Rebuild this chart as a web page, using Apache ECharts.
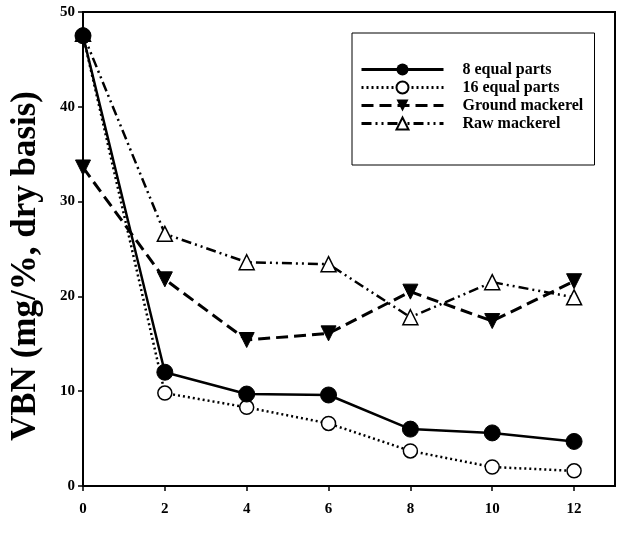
<!DOCTYPE html>
<html><head><meta charset="utf-8">
<script src="https://cdn.jsdelivr.net/npm/echarts@6/dist/echarts.min.js"></script>
<style>html,body{margin:0;padding:0;background:#fff}#c{width:626px;height:533px}</style>
</head><body><div id="c"></div>
<script>
const xValues = [0, 2, 4, 6, 8, 10, 12];
const eightParts = [47.5, 12.0, 9.7, 9.6, 6.0, 5.6, 4.7];
const sixteenParts = [47.5, 9.8, 8.3, 6.6, 3.7, 2.0, 1.6];
const groundMackerel = [33.6, 21.8, 15.4, 16.1, 20.5, 17.4, 21.6];
const rawMackerel = [47.7, 26.6, 23.6, 23.4, 17.8, 21.5, 19.9];
const seriesNames = ['8 equal parts', '16 equal parts', 'Ground mackerel', 'Raw mackerel'];
const yTicks = [0, 10, 20, 30, 40, 50];

const pairs = arr => xValues.map((x, i) => [x, arr[i]]);
const font = 'Liberation Serif';
const chart = echarts.init(document.getElementById('c'), null, {renderer: 'canvas'});
chart.setOption({
  animation: false,
  grid: {left: 83, right: 11, top: 12, bottom: 47, show: true, borderColor: '#000', borderWidth: 2},
  legend: {
    left: 352, top: 33, orient: 'vertical',
    borderColor: '#000', borderWidth: 1, padding: [28, 8, 33, 8],
    itemWidth: 82, itemHeight: 15, itemGap: 1,
    lineStyle: {width: 3},
    textStyle: {fontFamily: font, fontWeight: 'bold', fontSize: 16, lineHeight: 17, color: '#000', padding: [0, 0, 0, 14], width: 124},
    data: seriesNames
  },
  xAxis: {
    type: 'value', min: 0, max: 13, interval: 2,
    axisLine: {lineStyle: {color: '#000', width: 2}},
    axisTick: {show: true, length: 5, lineStyle: {color: '#000', width: 1.5}},
    splitLine: {show: false},
    axisLabel: {fontFamily: font, fontWeight: 'bold', fontSize: 15, color: '#000', margin: 16, showMaxLabel: false}
  },
  yAxis: {
    type: 'value', min: 0, max: 50, interval: 10,
    name: 'VBN (mg/%, dry basis)', nameLocation: 'middle', nameGap: 40,
    nameTextStyle: {fontFamily: font, fontWeight: 'bold', fontSize: 35, color: '#000', padding: [0, 34, 0, 0]},
    axisLine: {lineStyle: {color: '#000', width: 2}},
    axisTick: {show: true, length: 5, lineStyle: {color: '#000', width: 1.5}},
    splitLine: {show: false},
    axisLabel: {fontFamily: font, fontWeight: 'bold', fontSize: 15, color: '#000', margin: 8,
      formatter: v => yTicks.includes(v) ? String(v) : ''}
  },
  series: [
    {name: seriesNames[0], type: 'line', data: pairs(eightParts), symbol: 'circle', symbolSize: 16,
      itemStyle: {color: '#000', borderColor: '#000'}, lineStyle: {color: '#000', width: 2.5, type: 'solid'}, z: 4},
    {name: seriesNames[1], type: 'line', data: pairs(sixteenParts), symbol: 'circle', symbolSize: 14,
      itemStyle: {color: '#fff', borderColor: '#000', borderWidth: 1.5}, lineStyle: {color: '#000', width: 2.5, type: [2, 3]}, z: 3},
    {name: seriesNames[2], type: 'line', data: pairs(groundMackerel), symbol: 'triangle', symbolRotate: 180, symbolSize: 15,
      itemStyle: {color: '#000', borderColor: '#000'}, lineStyle: {color: '#000', width: 3, type: [12, 6]}, z: 2},
    {name: seriesNames[3], type: 'line', data: pairs(rawMackerel), symbol: 'triangle', symbolSize: 15,
      itemStyle: {color: '#fff', borderColor: '#000', borderWidth: 1.5}, lineStyle: {color: '#000', width: 2.5, type: [10, 4, 2, 4, 2, 4]}, z: 1}
  ]
});
</script></body></html>
